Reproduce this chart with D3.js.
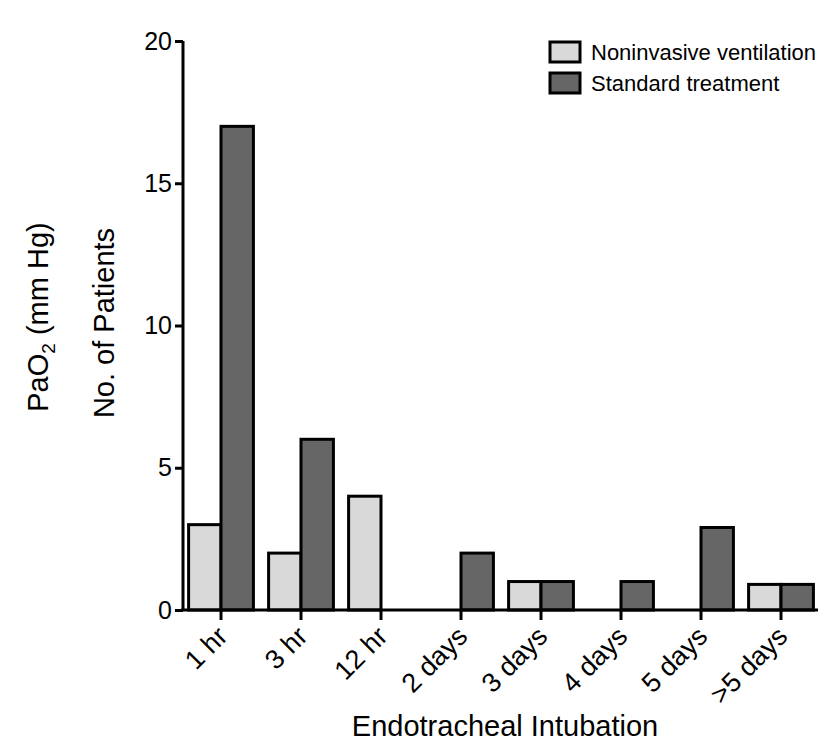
<!DOCTYPE html>
<html><head><meta charset="utf-8">
<script src="https://cdn.jsdelivr.net/npm/d3@7"></script>
<style>body{margin:0;background:#fff}text{font-family:"Liberation Sans",Arial,sans-serif;fill:#000}</style>
</head><body><svg id="c" width="820" height="742"></svg>
<script>
const categories = ["1 hr","3 hr","12 hr","2 days","3 days","4 days","5 days",">5 days"];
const seriesNames = ["Noninvasive ventilation","Standard treatment"];
const niv = [3,2,4,0,1,0,0,0.9];
const standard = [17,6,0,2,1,1,2.9,0.9];
const yTicks = [0,5,10,15,20];
const colors = ["#d9d9d9","#666666"];

const svg = d3.select("#c");
const x0 = 181, x1 = 821, yTop = 41, yBot = 610;
const x = d3.scaleBand().domain(categories).range([x0,x1]).paddingInner(0.19).paddingOuter(0.095);
const xs = d3.scaleBand().domain([0,1]).range([0,x.bandwidth()]);
const y = d3.scaleLinear().domain([0,20]).range([yBot,yTop]);

const data = categories.map((c,i)=>({c, v:[niv[i],standard[i]]}));
const g = svg.append("g");
data.forEach(d=>{
  d.v.forEach((v,j)=>{
    if(v<=0) return;
    g.append("rect")
      .attr("x", x(d.c)+xs(j)).attr("width", xs.bandwidth())
      .attr("y", y(v)).attr("height", y(0)-y(v))
      .attr("fill", colors[j]).attr("stroke","#000").attr("stroke-width",3);
  });
});

// y axis
const ya = svg.append("g").attr("transform",`translate(183,0)`)
  .call(d3.axisLeft(y).tickValues(yTicks).tickSize(8).tickPadding(3).tickFormat(d3.format("d")));
ya.select(".domain").attr("stroke-width",3).attr("d",`M0,${yTop}V${yBot}`);
ya.selectAll(".tick line").attr("stroke-width",3);
ya.selectAll(".tick text").attr("font-size",25).attr("font-family","Liberation Sans, Arial, sans-serif");

// x axis
const xa = svg.append("g").attr("transform",`translate(0,${yBot})`)
  .call(d3.axisBottom(x).tickSize(10).tickSizeOuter(0));
xa.select(".domain").attr("stroke-width",3).attr("d",`M181,0H818`);
xa.selectAll(".tick line").attr("stroke-width",3);
xa.selectAll(".tick text").attr("font-size",27).attr("font-family","Liberation Sans, Arial, sans-serif")
  .attr("text-anchor","end").attr("dy",null).attr("y",0)
  .attr("transform","translate(8,28) rotate(-45)");

// axis titles
svg.append("text").attr("x",505).attr("y",736).attr("text-anchor","middle").attr("font-size",29).text("Endotracheal Intubation");
const t1 = svg.append("text").attr("transform","translate(48,317) rotate(-90)").attr("text-anchor","middle").attr("font-size",29);
t1.append("tspan").text("PaO");
t1.append("tspan").attr("font-size",19).attr("dy",7).text("2");
t1.append("tspan").attr("dy",-7).text(" (mm Hg)");
svg.append("text").attr("transform","translate(114,323) rotate(-90)").attr("text-anchor","middle").attr("font-size",29).text("No. of Patients");

// legend
seriesNames.forEach((n,i)=>{
  const ly = 42 + i*31;
  svg.append("rect").attr("x",550).attr("y",ly).attr("width",30).attr("height",20)
    .attr("fill",colors[i]).attr("stroke","#000").attr("stroke-width",3);
  svg.append("text").attr("x",591).attr("y",ly+18).attr("font-size",22).text(n);
});
</script></body></html>
